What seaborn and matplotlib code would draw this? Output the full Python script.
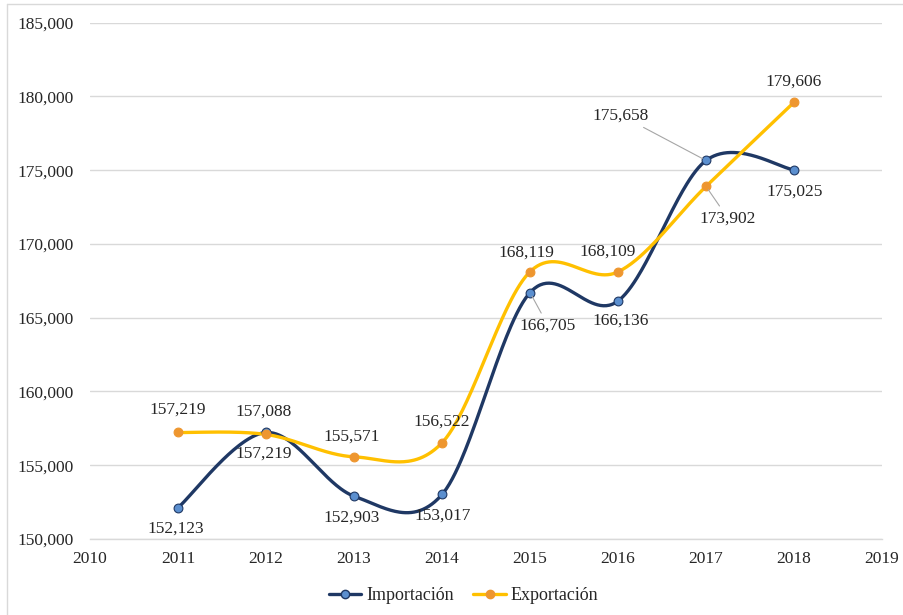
import numpy as np
import pandas as pd
import matplotlib
matplotlib.use("Agg")
import matplotlib.pyplot as plt
from matplotlib.lines import Line2D
import seaborn as sns

# Data
years = [2011, 2012, 2013, 2014, 2015, 2016, 2017, 2018]
importacion = [152123, 157219, 152903, 153017, 166705, 166136, 175658, 175025]
exportacion = [157219, 157088, 155571, 156522, 168119, 168109, 173902, 179606]
y_ticks = [150000, 155000, 160000, 165000, 170000, 175000, 180000, 185000]
x_ticks = list(range(2010, 2020))

NAVY = "#1F3864"
NAVY_MK = "#5B8FCF"
GOLD = "#FFC000"
ORANGE_MK = "#EE962F"
GRID = "#D9D9D9"
TEXT = "#262626"


def smooth_curve(xs, ys, n=60):
    """Bezier smoothing with Catmull-Rom style control points."""
    p = np.column_stack([xs, ys]).astype(float)
    ext = np.vstack([p[0], p, p[-1]])
    out = []
    for i in range(len(p) - 1):
        p0, p1, p2, p3 = ext[i], ext[i + 1], ext[i + 2], ext[i + 3]
        c1 = p1 + (p2 - p0) / 6.0
        c2 = p2 - (p3 - p1) / 6.0
        t = np.linspace(0, 1, n, endpoint=(i == len(p) - 2))[:, None]
        seg = ((1 - t) ** 3) * p1 + 3 * ((1 - t) ** 2) * t * c1 \
            + 3 * (1 - t) * t ** 2 * c2 + t ** 3 * p2
        out.append(seg)
    out = np.vstack(out)
    return out[:, 0], out[:, 1]


sns.set_theme(style="white")
plt.rcParams["font.family"] = ["Liberation Serif", "DejaVu Serif"]
plt.rcParams["text.color"] = TEXT

fig = plt.figure(figsize=(9.04, 6.15), dpi=100)
ax = fig.add_axes([0.0996, 0.1236, 0.8761, 0.8395])

series = [
    ("Importación", importacion, NAVY, NAVY_MK, NAVY),
    ("Exportación", exportacion, GOLD, ORANGE_MK, ORANGE_MK),
]

for name, vals, lc, mfc, mec in series:
    sx, sy = smooth_curve(years, vals)
    curve = pd.DataFrame({"year": sx, "value": sy})
    sns.lineplot(data=curve, x="year", y="value", ax=ax, color=lc,
                 linewidth=2.4, sort=False, estimator=None, zorder=3)
    pts = pd.DataFrame({"year": years, "value": vals})
    sns.scatterplot(data=pts, x="year", y="value", ax=ax, color=mfc,
                    edgecolor=mec, linewidth=0.8, s=40, zorder=4)

# Data labels (pixel offsets from each marker)
imp_offsets = [(-2, -21), (-2, -21), (-2, -21), (1, -21), (18, -33),
               (3, -20), (-85, 45), (1, -22)]
exp_offsets = [(0, 23), (-2, 23), (-2, 20), (0, 21), (-4, 19),
               (-10, 20), (22, -32), (0, 21)]
imp_leaders = {2015, 2017}
exp_leaders = {2017}

for vals, offsets, leaders in [(importacion, imp_offsets, imp_leaders),
                               (exportacion, exp_offsets, exp_leaders)]:
    for yr, v, off in zip(years, vals, offsets):
        arrow = None
        if yr in leaders:
            arrow = dict(arrowstyle="-", color="#A6A6A6", lw=0.8,
                         shrinkA=1, shrinkB=3)
        ax.annotate(f"{v:,}", xy=(yr, v), xytext=off,
                    textcoords="offset pixels", ha="center", va="center",
                    fontsize=12.5, color=TEXT, arrowprops=arrow, zorder=5)

ax.set_xlim(2010, 2019)
ax.set_ylim(150000, 185000)
ax.set_xticks(x_ticks)
ax.set_yticks(y_ticks)
ax.set_xticklabels([str(t) for t in x_ticks])
ax.set_yticklabels([f"{t:,}" for t in y_ticks])
ax.tick_params(axis="both", length=0, labelsize=12.5, colors=TEXT)
ax.tick_params(axis="y", pad=12)
ax.tick_params(axis="x", pad=9)
ax.yaxis.grid(True, color=GRID, linewidth=1.0)
ax.xaxis.grid(False)
ax.set_axisbelow(True)
for side in ["top", "right", "left"]:
    ax.spines[side].set_visible(False)
ax.spines["bottom"].set_color(GRID)
ax.spines["bottom"].set_linewidth(1.0)
ax.set_xlabel("")
ax.set_ylabel("")

handles = [
    Line2D([0], [0], color=NAVY, lw=2.4, marker="o", markersize=6,
           markerfacecolor=NAVY_MK, markeredgecolor=NAVY),
    Line2D([0], [0], color=GOLD, lw=2.4, marker="o", markersize=6,
           markerfacecolor=ORANGE_MK, markeredgecolor=ORANGE_MK),
]
fig.legend(handles, ["Importación", "Exportación"], loc="center",
           bbox_to_anchor=(0.5127, 0.031), ncol=2, frameon=False,
           fontsize=13, handlelength=1.8, handletextpad=0.25,
           columnspacing=1.1)

# Chart-area frame along the top and left edges
fig.add_artist(Line2D([7 / 904, 1.0], [1 - 4 / 615, 1 - 4 / 615],
                      transform=fig.transFigure, color="#D9D9D9", lw=1.0))
fig.add_artist(Line2D([7 / 904, 7 / 904], [0.0, 1 - 4 / 615],
                      transform=fig.transFigure, color="#D9D9D9", lw=1.0))

fig.savefig("out.png", dpi=100, facecolor="white")
